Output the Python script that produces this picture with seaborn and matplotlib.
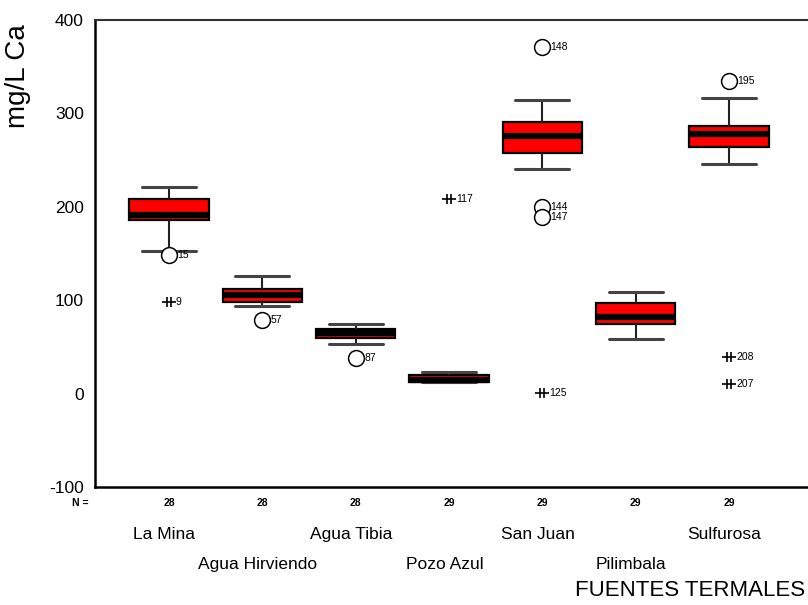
import numpy as np
import pandas as pd
import matplotlib
matplotlib.use("Agg")
import matplotlib.pyplot as plt
import matplotlib.transforms as mtransforms
from matplotlib.path import Path
import seaborn as sns

# ---- data ----
categories = ["La Mina", "Agua Hirviendo", "Agua Tibia", "Pozo Azul",
              "San Juan", "Pilimbala", "Sulfurosa"]
n_counts = [28, 28, 28, 29, 29, 29, 29]
whisker_low = [153, 94, 53, 12, 241, 58, 246]
q1 = [186, 98, 60, 12, 258, 75, 264]
median = [191, 106, 65, 15, 276, 82, 278]
q3 = [208, 112, 69, 20, 291, 97, 287]
whisker_high = [221, 126, 75, 23, 314, 109, 316]

outlier_group = ["La Mina", "Agua Hirviendo", "Agua Tibia", "San Juan",
                 "San Juan", "San Juan", "Sulfurosa"]
outlier_value = [148, 79, 38, 371, 200, 189, 335]
outlier_label = ["15", "57", "87", "148", "144", "147", "195"]

extreme_group = ["La Mina", "Pozo Azul", "San Juan", "Sulfurosa", "Sulfurosa"]
extreme_value = [98, 208, 1, 39, 10]
extreme_label = ["9", "117", "125", "208", "207"]

y_ticks = [-100, 0, 100, 200, 300, 400]

# ---- build long table of five-number summaries ----
rows = []
for i, c in enumerate(categories):
    for v in (whisker_low[i], q1[i], median[i], q3[i], whisker_high[i]):
        rows.append({"grupo": c, "valor": v})
df = pd.DataFrame(rows)
out_df = pd.DataFrame({"grupo": outlier_group, "valor": outlier_value, "lab": outlier_label})
ext_df = pd.DataFrame({"grupo": extreme_group, "valor": extreme_value, "lab": extreme_label})

sns.set_style("white")
plt.rcParams["font.family"] = ["Liberation Sans", "DejaVu Sans"]
plt.rcParams["text.color"] = "black"
plt.rcParams["axes.labelcolor"] = "black"
plt.rcParams["xtick.color"] = "black"
plt.rcParams["ytick.color"] = "black"

W, H = 808, 605
fig = plt.figure(figsize=(W / 100, H / 100), dpi=100)
ax = fig.add_axes([95 / W, 118 / H, (W - 95) / W, 467 / H])

sns.boxplot(data=df, x="grupo", y="valor", order=categories, ax=ax,
            whis=(0, 100), width=0.85, color="#ff0000", saturation=1,
            linecolor="black", linewidth=1.6,
            boxprops=dict(facecolor="#ff0000", edgecolor="black", linewidth=1.6),
            medianprops=dict(color="black", linewidth=4.5),
            whiskerprops=dict(color="#222222", linewidth=1.5),
            capprops=dict(color="#444444", linewidth=2.2),
            showfliers=False)

# widen caps to match the reference
pos = {c: i for i, c in enumerate(categories)}
for line in ax.lines:
    xd = np.asarray(line.get_xdata(), dtype=float)
    yd = np.asarray(line.get_ydata(), dtype=float)
    if len(xd) == 2 and yd[0] == yd[1] and 0.1 < abs(xd[1] - xd[0]) < 0.5:
        cx = xd.mean()
        line.set_xdata([cx - 0.29, cx + 0.29])

# outliers (circles)
sns.scatterplot(data=out_df, x="grupo", y="valor", ax=ax, marker="o", s=130,
                facecolor="white", edgecolor="black", linewidth=1.1, zorder=5, legend=False)
# extremes (SPSS-like star)
star = Path([(-1, 0), (1, 0), (-0.3, -0.7), (-0.3, 0.7), (0.25, -0.7), (0.25, 0.7)],
            [Path.MOVETO, Path.LINETO, Path.MOVETO, Path.LINETO, Path.MOVETO, Path.LINETO])
sns.scatterplot(data=ext_df, x="grupo", y="valor", ax=ax, marker=star, s=110,
                color="black", edgecolor="black", linewidth=1.2, zorder=5, legend=False)

lab_font = dict(fontsize=7.5, family=["Liberation Sans Narrow", "Liberation Sans", "DejaVu Sans"])
for g, v, l in zip(outlier_group, outlier_value, outlier_label):
    ax.annotate(l, (pos[g], v), xytext=(6, 0), textcoords="offset points",
                va="center", ha="left", **lab_font)
for g, v, l in zip(extreme_group, extreme_value, extreme_label):
    ax.annotate(l, (pos[g], v), xytext=(5, 0), textcoords="offset points",
                va="center", ha="left", **lab_font)

# axes
ax.set_xlim(-0.793, 6.846)
ax.set_ylim(-100, 400)
ax.set_yticks(y_ticks)
ax.set_yticklabels([str(t) for t in y_ticks], fontsize=12.5)
ax.set_xticks(range(len(categories)))
ax.set_xticklabels([])
ax.tick_params(axis="y", direction="out", length=3, width=2.5, color="black", pad=5)
ax.tick_params(axis="x", direction="out", length=4, width=2.5, color="black")
ax.set_xlabel("")
ax.set_ylabel("mg/L Ca", fontsize=20)
ax.yaxis.set_label_coords(-0.09, 0.88)
for s in ["left", "bottom"]:
    ax.spines[s].set_color("black")
    ax.spines[s].set_linewidth(1.8)
ax.spines["top"].set_color("#333333")
ax.spines["top"].set_linewidth(1.5)
ax.spines["right"].set_visible(False)

# N row and category labels
tr = mtransforms.blended_transform_factory(ax.transData, fig.transFigure)
nfont = dict(fontsize=7.5, fontweight="bold", family=["Liberation Sans Narrow", "Liberation Sans"])
fig.text(80 / W, 1 - 503 / H, "N =", ha="center", va="center", **nfont)
for i, (c, n) in enumerate(zip(categories, n_counts)):
    ax.text(i, 1 - 503 / H, str(n), transform=tr, ha="center", va="center", **nfont)
    yrow = 539 if i % 2 == 0 else 569
    ax.text(i - 0.05, 1 - yrow / H, c, transform=tr, fontsize=12.5, ha="center", va="baseline")

fig.text(0.996, 1 - 596 / H, "FUENTES TERMALES", fontsize=16, ha="right", va="baseline")

fig.savefig("out.png", dpi=100, facecolor="white")
